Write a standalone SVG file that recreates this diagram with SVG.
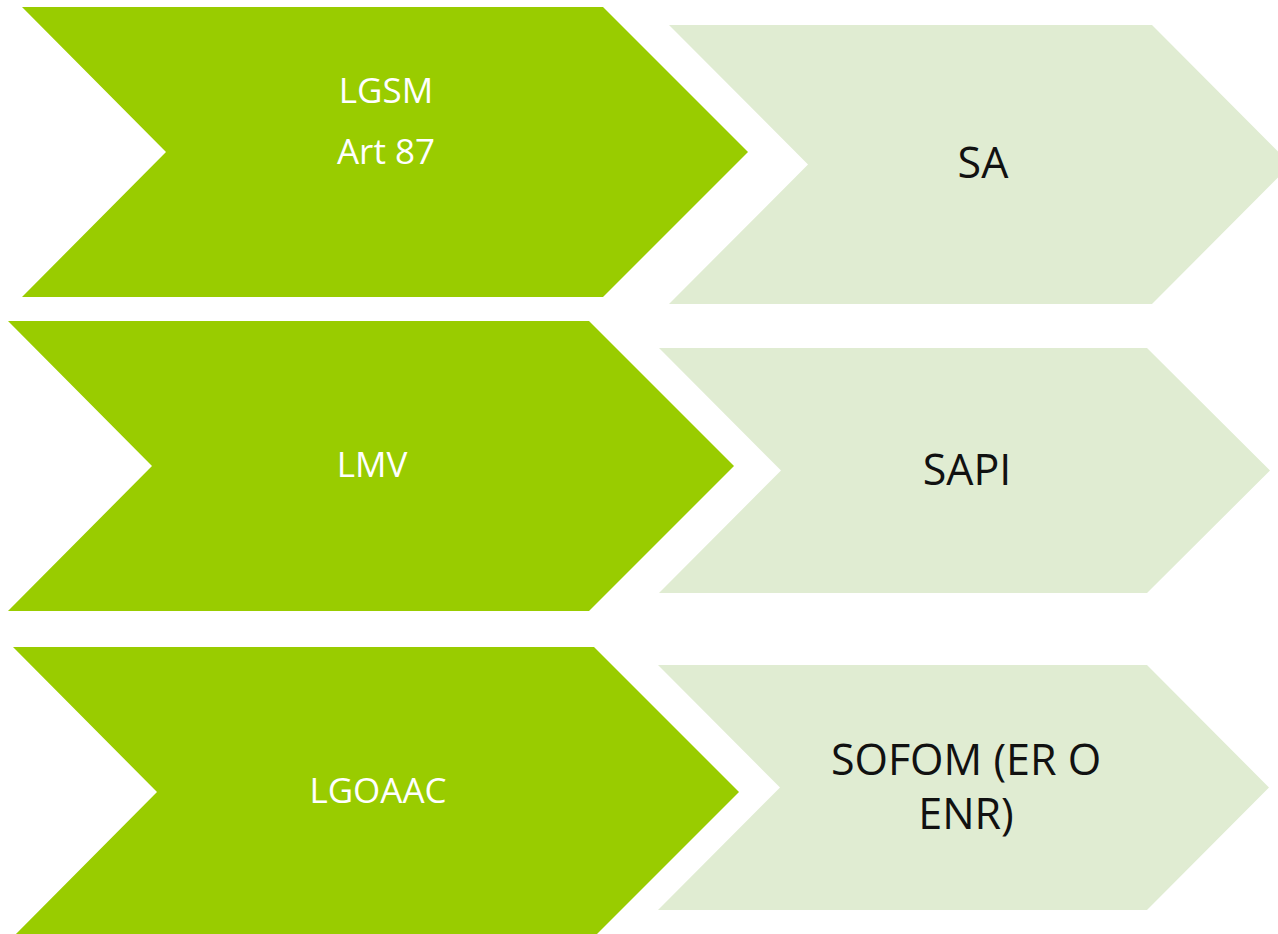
<svg xmlns="http://www.w3.org/2000/svg" width="1278" height="934" viewBox="0 0 1278 934">
<style>
.dark{fill:#99CC00}
.light{fill:#E0ECD2}
.wt{font-family:"Open Sans","Liberation Sans",sans-serif;font-size:35px;fill:#FFFFFF;text-anchor:middle}
.bt{font-family:"Open Sans","Liberation Sans",sans-serif;font-size:43px;fill:#111111;text-anchor:middle}
</style>
<rect width="1278" height="934" fill="#FFFFFF"/>
<g id="connectors"></g>
<g id="n1">
<polygon class="dark" points="22,7 603,7 748,152 603,297 22,297 166,152"/>
<text class="wt" x="386" y="103">LGSM</text>
<text class="wt" x="386" y="164">Art 87</text>
</g>
<g id="n2">
<polygon class="light" points="669,25 1152,25 1291,164.5 1152,304 669,304 808,164.5"/>
<text class="bt" x="983" y="178">SA</text>
</g>
<g id="n3">
<polygon class="dark" points="8,321 589,321 734,466 589,611 8,611 152,466"/>
<text class="wt" x="372" y="477">LMV</text>
</g>
<g id="n4">
<polygon class="light" points="659,348 1147,348 1270,470.5 1147,593 659,593 781,470.5"/>
<text class="bt" x="967" y="485">SAPI</text>
</g>
<g id="n5">
<polygon class="dark" points="13,647 594,647 739,792 594,937 13,937 157,792"/>
<text class="wt" x="378" y="803">LGOAAC</text>
</g>
<g id="n6">
<polygon class="light" points="658,665 1147,665 1269,787.5 1147,910 658,910 780,787.5"/>
<text class="bt" x="966" y="775">SOFOM (ER O</text>
<text class="bt" x="966" y="829">ENR)</text>
</g>
</svg>
